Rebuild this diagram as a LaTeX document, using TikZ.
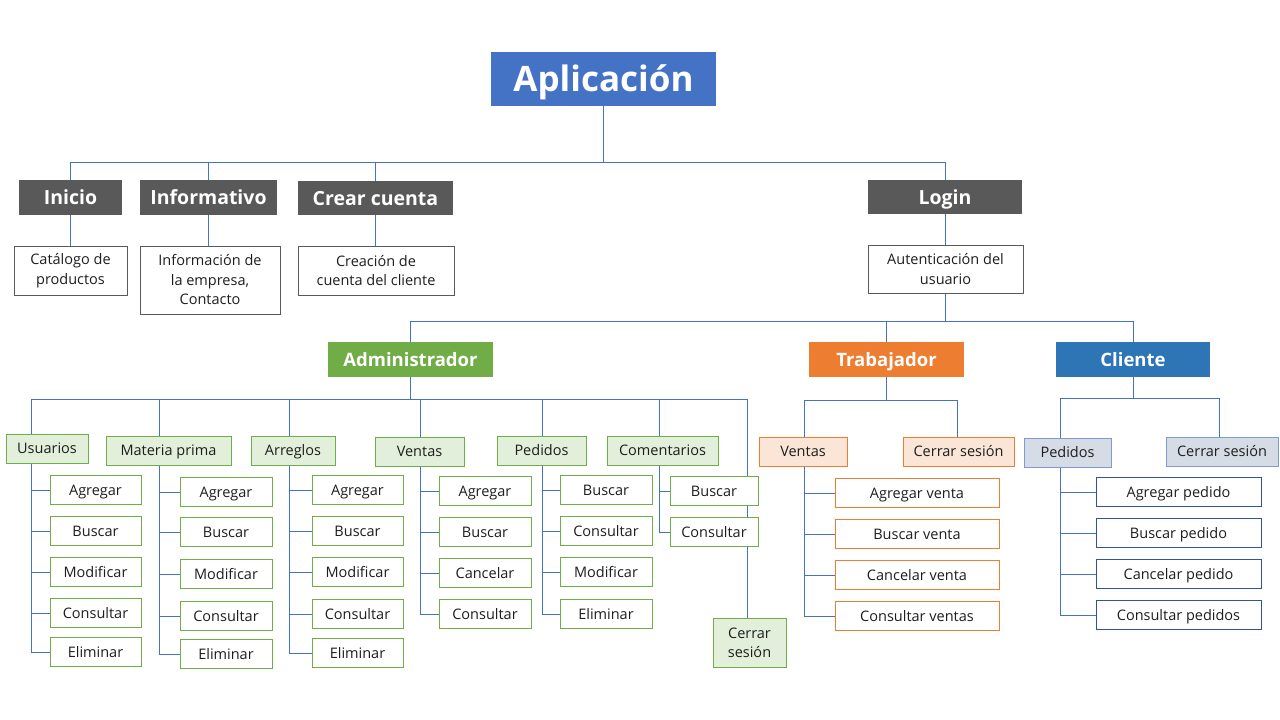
\documentclass[tikz,border=0pt]{standalone}
\usepackage{fontspec}
\setmainfont{Open Sans}
\usetikzlibrary{backgrounds}
\definecolor{appblue}{HTML}{4472C4}
\definecolor{dgray}{HTML}{595959}
\definecolor{grn}{HTML}{70AD47}
\definecolor{lgrn}{HTML}{E2EFDA}
\definecolor{org}{HTML}{ED7D31}
\definecolor{lorg}{HTML}{FBE5D6}
\definecolor{cblue}{HTML}{2E75B6}
\definecolor{lblue}{HTML}{D6DCE5}
\definecolor{mblue}{HTML}{7F9ACF}
\definecolor{dblue}{HTML}{2F5597}
\definecolor{lnc}{HTML}{4472C4}
\definecolor{txt}{HTML}{1E1E1E}
\newcommand\bx[7]{\node[#6, minimum width={(#4-#2)*1pt}, minimum height={(#5-#3)*1pt}] (#1) at ({(#2+#4)/2},{(#3+#5)/2}) {#7};}
\newcommand\lf[6]{\node[#5, minimum width={(#3-#2)*1pt}, minimum height=29pt] (#1) at ({(#2+#3)/2},#4) {#6};}
\tikzset{
  base/.style={inner sep=0pt, outer sep=0pt, align=center, line width=1pt},
  ml/.style={text height=, text depth=},
  appst/.style={base, fill=appblue, text=white, font=\bfseries\fontsize{35}{40}\selectfont, text height=34pt, text depth=8.7pt},
  hdr/.style={base, fill=dgray, text=white, font=\bfseries\fontsize{19.5}{23}\selectfont, text height=19pt, text depth=4.9pt},
  rolehdr/.style={base, text=white, font=\bfseries\fontsize{18.5}{22}\selectfont, text height=18pt, text depth=4.6pt},
  tleaf/.style={base, draw=dgray, fill=white, text=txt, font=\fontsize{14.5}{19.5}\selectfont},
  leaf/.style={base, fill=white, text=txt, font=\fontsize{14.5}{19}\selectfont, text height=14pt, text depth=3.6pt},
  gcat/.style={leaf, draw=grn, fill=lgrn},
  gleaf/.style={leaf, draw=grn},
  ocat/.style={leaf, draw=org, fill=lorg},
  oleaf/.style={leaf, draw=org},
  bcat/.style={leaf, draw=mblue, fill=lblue},
  bleaf/.style={leaf, draw=dblue},
  conn/.style={color=lnc, line width=1pt}
}
\begin{document}
\begin{tikzpicture}[x=1pt,y=-1pt]
\useasboundingbox (0,0) rectangle (1280,720);
% top level
\bx{app}{491}{52}{716}{106}{appst}{Aplicación}
\bx{ini}{19}{180}{122}{215}{hdr}{Inicio}
\bx{inf}{140}{180}{277}{215}{hdr}{Informativo}
\bx{cre}{298}{181}{453}{215}{hdr}{Crear cuenta}
\bx{log}{868}{180}{1022}{214}{hdr}{Login}
\bx{cat}{14}{246}{127}{295}{tleaf}{Catálogo de\\productos}
\bx{infd}{140}{246}{280}{314}{tleaf}{Información de\\la empresa,\\Contacto}
\bx{cred}{298}{246}{454}{295}{tleaf}{Creación de\\cuenta del cliente}
\bx{aut}{868}{245}{1023}{293}{tleaf}{Autenticación del\\usuario}
% roles
\bx{adm}{328}{342}{493}{377}{rolehdr,fill=grn}{Administrador}
\bx{tra}{809}{342}{964}{377}{rolehdr,fill=org}{Trabajador}
\bx{cli}{1056}{342}{1210}{377}{rolehdr,fill=cblue}{Cliente}
% admin categories
\bx{usu}{6}{434}{88}{463}{gcat}{Usuarios}
\bx{mat}{106}{436}{231}{465}{gcat}{Materia prima}
\bx{arr}{251}{436}{335}{465}{gcat}{Arreglos}
\bx{ven}{375}{437}{464}{466}{gcat}{Ventas}
\bx{ped}{497}{436}{586}{465}{gcat}{Pedidos}
\bx{com}{607}{436}{718}{465}{gcat}{Comentarios}
\bx{acs}{713}{618}{786}{667}{gcat,ml}{Cerrar\\sesión}
% admin leaves
\lf{u1}{50}{141}{490}{gleaf}{Agregar}
\lf{u2}{50}{141}{531}{gleaf}{Buscar}
\lf{u3}{50}{141}{572}{gleaf}{Modificar}
\lf{u4}{50}{141}{613}{gleaf}{Consultar}
\lf{u5}{50}{141}{652}{gleaf}{Eliminar}
\lf{m1}{180}{272}{492}{gleaf}{Agregar}
\lf{m2}{180}{272}{532}{gleaf}{Buscar}
\lf{m3}{180}{272}{574}{gleaf}{Modificar}
\lf{m4}{180}{272}{616}{gleaf}{Consultar}
\lf{m5}{180}{272}{654}{gleaf}{Eliminar}
\lf{a1}{312}{403}{490}{gleaf}{Agregar}
\lf{a2}{312}{403}{531}{gleaf}{Buscar}
\lf{a3}{312}{403}{572}{gleaf}{Modificar}
\lf{a4}{312}{403}{614}{gleaf}{Consultar}
\lf{a5}{312}{403}{653}{gleaf}{Eliminar}
\lf{v1}{439}{531}{491}{gleaf}{Agregar}
\lf{v2}{439}{531}{532}{gleaf}{Buscar}
\lf{v3}{439}{531}{573}{gleaf}{Cancelar}
\lf{v4}{439}{531}{614}{gleaf}{Consultar}
\lf{p1}{560}{652}{490}{gleaf}{Buscar}
\lf{p2}{560}{652}{531}{gleaf}{Consultar}
\lf{p3}{560}{652}{572}{gleaf}{Modificar}
\lf{p4}{560}{652}{614}{gleaf}{Eliminar}
\lf{c1}{670}{758}{491}{gleaf}{Buscar}
\lf{c2}{670}{758}{532}{gleaf}{Consultar}
% trabajador
\bx{tv}{759}{437}{847}{466}{ocat}{Ventas}
\bx{tc}{903}{437}{1014}{466}{ocat}{Cerrar sesión}
\lf{t1}{835}{999}{493}{oleaf}{Agregar venta}
\lf{t2}{835}{999}{534}{oleaf}{Buscar venta}
\lf{t3}{835}{999}{575}{oleaf}{Cancelar venta}
\lf{t4}{835}{999}{616}{oleaf}{Consultar ventas}
% cliente
\bx{cp}{1024}{438}{1111}{467}{bcat}{Pedidos}
\bx{cc}{1166}{437}{1278}{466}{bcat}{Cerrar sesión}
\lf{k1}{1096}{1261}{492}{bleaf}{Agregar pedido}
\lf{k2}{1096}{1261}{533}{bleaf}{Buscar pedido}
\lf{k3}{1096}{1261}{574}{bleaf}{Cancelar pedido}
\lf{k4}{1096}{1261}{615}{bleaf}{Consultar pedidos}
% coordinates
\coordinate (tb) at (0,162);
\coordinate (mb) at (0,321);
\coordinate (sU) at (31,399);
\coordinate (sM) at (159,399);
\coordinate (sA) at (289,399);
\coordinate (sV) at (420,399);
\coordinate (sP) at (542,399);
\coordinate (sC) at (659,399);
\coordinate (sX) at (747,399);
\coordinate (tL) at (804,400);
\coordinate (tR) at (957,400);
\coordinate (kL) at (1060,398);
\coordinate (kR) at (1219,398);
\begin{scope}[on background layer]
\begin{scope}[conn]
% top bus
\draw (app.south) -- (app.south |- tb);
\draw (ini.north |- tb) -- (log.north |- tb);
\foreach \n in {ini,inf,cre,log} \draw (\n.north) -- (\n.north |- tb);
\draw (ini.south) -- (ini.south |- cat.north);
\draw (inf.south) -- (inf.south |- infd.north);
\draw (cre.south) -- (cre.south |- cred.north);
\draw (log.south) -- (log.south |- aut.north);
% main bus
\draw (aut.south) -- (aut.south |- mb);
\draw (adm.north |- mb) -- (cli.north |- mb);
\foreach \n in {adm,tra,cli} \draw (\n.north) -- (\n.north |- mb);
% admin bus
\draw (adm.south) -- (adm.south |- sU);
\draw (sU) -- (sX);
\draw (sU) |- (u5.west);
\foreach \n in {u1,u2,u3,u4} \draw (sU |- \n.west) -- (\n.west);
\draw (sM) |- (m5.west);
\foreach \n in {m1,m2,m3,m4} \draw (sM |- \n.west) -- (\n.west);
\draw (sA) |- (a5.west);
\foreach \n in {a1,a2,a3,a4} \draw (sA |- \n.west) -- (\n.west);
\draw (sV) |- (v4.west);
\foreach \n in {v1,v2,v3} \draw (sV |- \n.west) -- (\n.west);
\draw (sP) |- (p4.west);
\foreach \n in {p1,p2,p3} \draw (sP |- \n.west) -- (\n.west);
\draw (sC) |- (c2.west);
\draw (sC |- c1.west) -- (c1.west);
\draw (sX) -- (sX |- acs.north);
% trabajador
\draw (tra.south) -- (tra.south |- tL);
\draw (tL) -- (tR);
\draw (tR) -- (tR |- tc.north);
\draw (tL) |- (t4.west);
\foreach \n in {t1,t2,t3} \draw (tL |- \n.west) -- (\n.west);
% cliente
\draw (cli.south) -- (cli.south |- kL);
\draw (kL) -- (kR);
\draw (kR) -- (kR |- cc.north);
\draw (kL) |- (k4.west);
\foreach \n in {k1,k2,k3} \draw (kL |- \n.west) -- (\n.west);
\end{scope}
\end{scope}
\end{tikzpicture}
\end{document}
